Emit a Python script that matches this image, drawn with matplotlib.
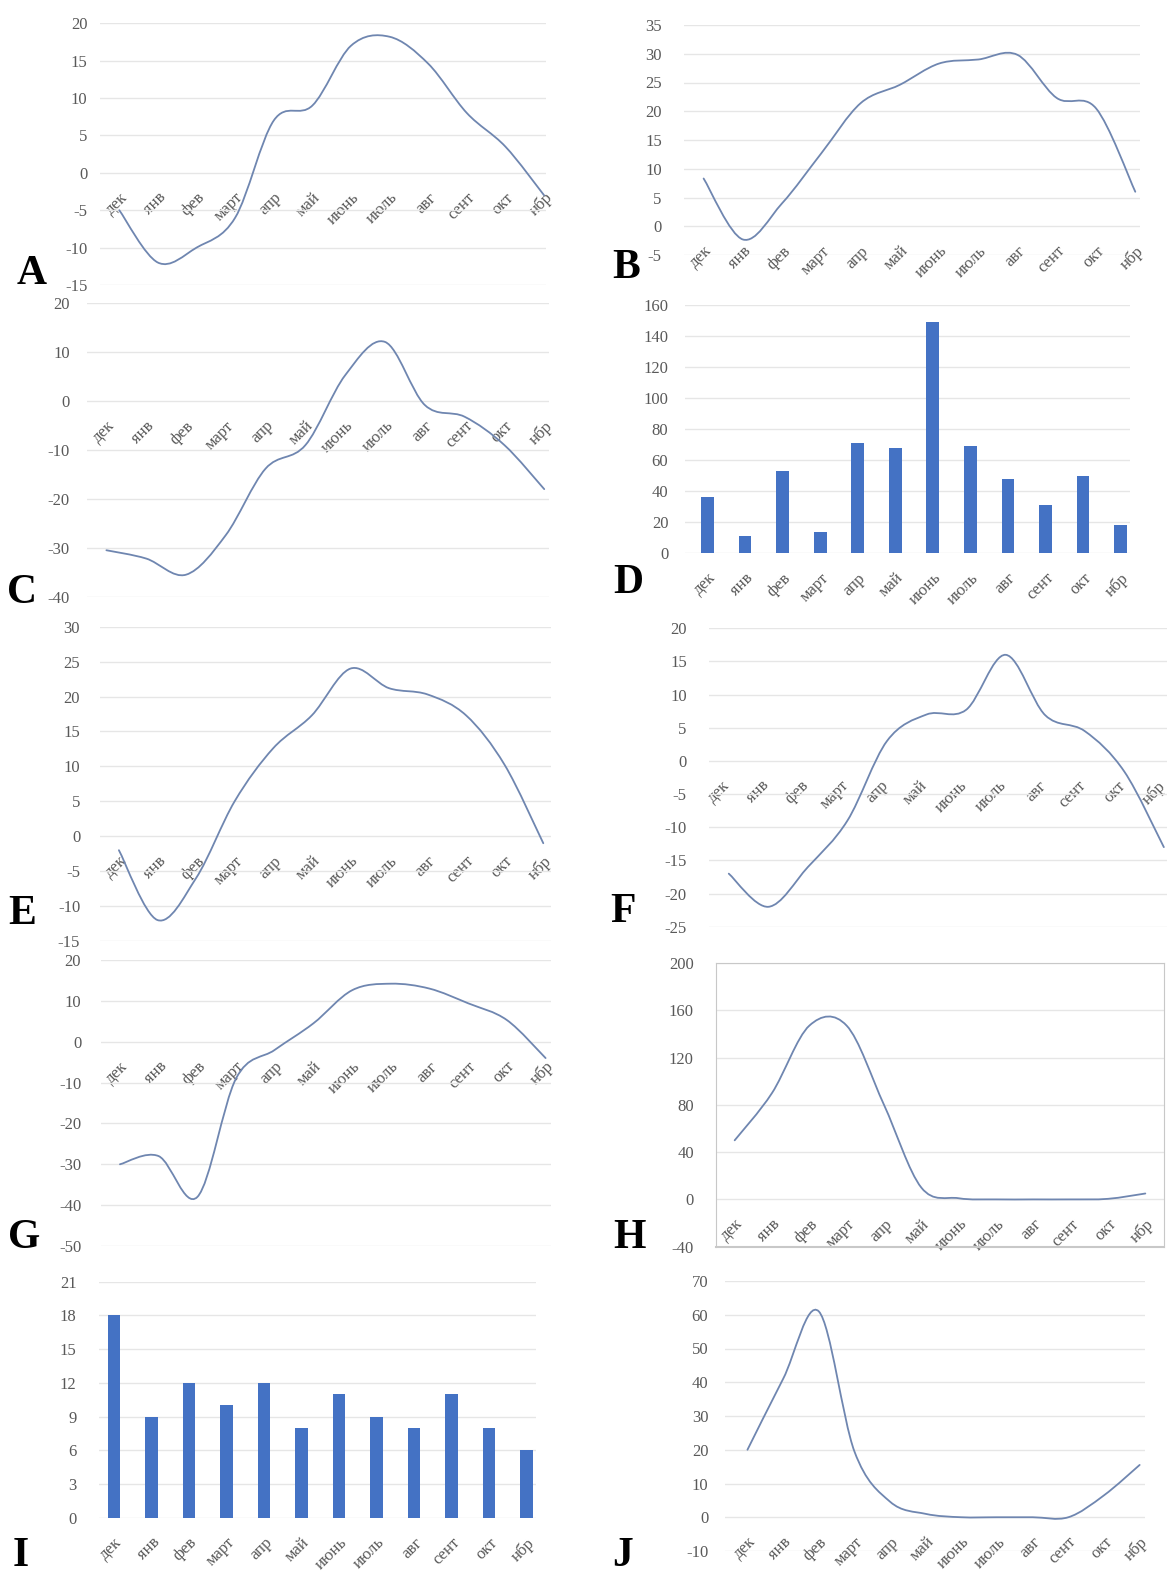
import matplotlib
matplotlib.use("Agg")
import matplotlib.pyplot as plt
import matplotlib.transforms as mtransforms
import numpy as np
from matplotlib.path import Path
from matplotlib.patches import PathPatch

plt.rcParams["font.family"] = ["Liberation Serif", "DejaVu Serif"]
plt.rcParams["axes.unicode_minus"] = False

W, H = 1167, 1578

months = ["дек", "янв", "фев", "март", "апр", "май", "июнь", "июль", "авг", "сент", "окт", "нбр"]

a_vals = [-5, -12, -10, -6, 7, 9, 17, 18.2, 14.6, 8, 3.5, -3]
b_vals = [8.3, -2.3, 4, 12.7, 21.4, 24.6, 28.3, 29, 29.8, 22.3, 20.5, 6]
c_vals = [-30.5, -32.2, -35.5, -27.4, -13.8, -9, 5.3, 12.1, -0.8, -3.2, -9, -18]
d_vals = [36, 11, 53, 14, 71, 68, 149, 69, 48, 31, 50, 18]
e_vals = [-2, -12, -6, 5, 12.6, 17.3, 24, 21.2, 20.3, 17.3, 10.2, -1]
f_vals = [-17, -22, -16, -9, 3, 7, 7.7, 16, 6.9, 4.5, -1.6, -13]
g_vals = [-30, -28, -38, -9, -2, 4.5, 12.6, 14.2, 13, 9.4, 5.3, -4]
h_vals = [50, 90, 147, 147, 80, 10, 1, 0, 0, 0, 0.5, 5]
i_vals = [18, 9, 12, 10, 12, 8, 11, 9, 8, 11, 8, 6]
j_vals = [20, 41, 61, 19.5, 4.6, 1, 0, 0, 0, 0, 6.5, 15.5]

LINE = "#6f86b0"
BAR = "#4472c4"
GRID = "#e6e6e6"
TXT = "#595959"
FS = 12


def smooth_path(xs, ys):
    # excel-style smoothed line: catmull-rom segments as cubic beziers
    pts = np.column_stack([xs, ys]).astype(float)
    n = len(pts)
    verts = [pts[0]]
    codes = [Path.MOVETO]
    for i in range(n - 1):
        p0 = pts[max(i - 1, 0)]
        p1 = pts[i]
        p2 = pts[i + 1]
        p3 = pts[min(i + 2, n - 1)]
        verts += [p1 + (p2 - p0) / 6, p2 - (p3 - p1) / 6, p2]
        codes += [Path.CURVE4] * 3
    return Path(verts, codes)


def make_ax(fig, box, xlim, ylim, step, ypad, frame=False, xshift=0):
    left, top, right, bottom = box
    ax = fig.add_axes([left / W, 1 - bottom / H, (right - left) / W, (bottom - top) / H])
    ax.set_xlim(*xlim)
    ax.set_ylim(*ylim)
    ax.set_yticks(np.arange(ylim[0], ylim[1] + step / 2, step))
    ax.yaxis.grid(True, color=GRID, linewidth=1.0)
    ax.set_axisbelow(True)
    for sp in ax.spines.values():
        sp.set_visible(frame)
        sp.set_color("#c8c8c8")
    ax.spines["bottom"].set_position(("data", 0))
    if frame:
        ax.spines["bottom"].set_visible(False)
        ax.axhline(ylim[0], color="#c8c8c8", linewidth=1.5, clip_on=False)
    ax.tick_params(axis="y", length=0, pad=ypad, labelsize=FS, labelcolor=TXT)
    ax.tick_params(axis="x", length=0, pad=12, labelsize=FS, labelcolor=TXT)
    ax.set_xticks(range(12))
    ax.set_xticklabels(months, rotation=45, ha="right", rotation_mode="anchor")
    if xshift:
        shift = mtransforms.ScaledTranslation(xshift / 100, 0, fig.dpi_scale_trans)
        for lbl in ax.get_xticklabels():
            lbl.set_transform(lbl.get_transform() + shift)
    ax.patch.set_alpha(0)
    return ax


def line_panel(fig, box, xlim, ylim, step, vals, ypad=12, frame=False, xshift=0):
    ax = make_ax(fig, box, xlim, ylim, step, ypad, frame, xshift)
    ax.add_patch(PathPatch(smooth_path(np.arange(12), vals), fill=False,
                           edgecolor=LINE, linewidth=1.3, capstyle="round"))
    return ax


def bar_panel(fig, box, xlim, ylim, step, vals, ypad=12):
    ax = make_ax(fig, box, xlim, ylim, step, ypad)
    ax.bar(np.arange(12), vals, width=0.34, color=BAR)
    return ax


fig = plt.figure(figsize=(W / 100, H / 100), dpi=100)

line_panel(fig, (100, 23.3, 546, 285), (-0.5, 11.05), (-15, 20), 5, a_vals, ypad=9)
line_panel(fig, (684, 25, 1140, 255), (-0.5, 11.12), (-5, 35), 5, b_vals, ypad=16)
line_panel(fig, (86.5, 303.3, 549, 596.7), (-0.5, 11.12), (-40, 20), 10, c_vals, ypad=12)
bar_panel(fig, (685, 305, 1130, 553.3), (-0.6, 11.25), (0, 160), 20, d_vals, ypad=12)
line_panel(fig, (99.6, 626.7, 551, 941), (-0.5, 11.2), (-15, 30), 5, e_vals, ypad=14)
line_panel(fig, (709, 628.3, 1167, 926.7), (-0.5, 11.08), (-25, 20), 5, f_vals, ypad=16, xshift=-7)
line_panel(fig, (100.6, 960, 551, 1246), (-0.5, 11.14), (-50, 20), 10, g_vals, ypad=14)
line_panel(fig, (716, 963, 1164, 1246.7), (-0.5, 11.5), (-40, 200), 40, h_vals, ypad=16, frame=True)
bar_panel(fig, (98.6, 1281.7, 536, 1518), (-0.41, 11.25), (0, 21), 3, i_vals, ypad=16)
line_panel(fig, (725, 1281, 1145, 1551), (-0.63, 11.15), (-10, 70), 10, j_vals, ypad=12)

letters = {"A": (32, 274), "B": (626, 268), "C": (22, 593), "D": (628, 583),
           "E": (22, 914), "F": (623, 912), "G": (24, 1238), "H": (629, 1238),
           "I": (21, 1556), "J": (623, 1556)}
for letter, (x, y) in letters.items():
    fig.text(x / W, 1 - y / H, letter, fontsize=30, fontweight="bold",
             ha="center", va="center", color="black")

fig.savefig("out.png", dpi=100, facecolor="white")
